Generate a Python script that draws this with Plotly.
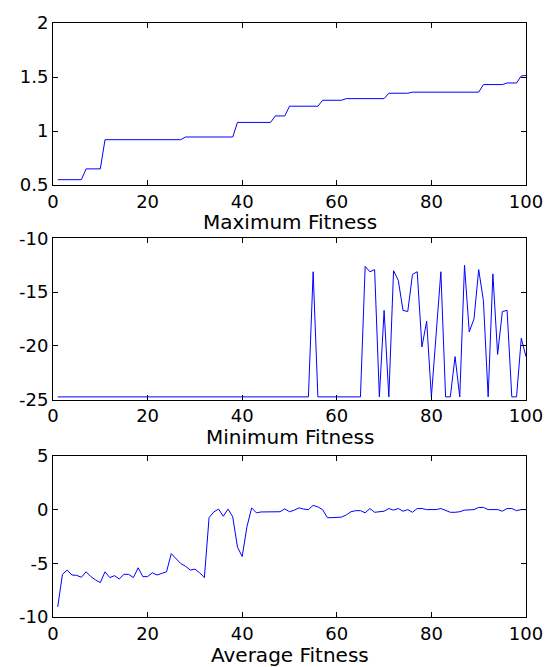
import plotly.graph_objects as go

generations = list(range(1, 101))

max_fitness = [
    0.55, 0.55, 0.55, 0.55, 0.55, 0.55, 0.65, 0.65, 0.65, 0.65,
    0.92, 0.92, 0.92, 0.92, 0.92, 0.92, 0.92, 0.92, 0.92, 0.92,
    0.92, 0.92, 0.92, 0.92, 0.92, 0.92, 0.92, 0.945, 0.945, 0.945,
    0.945, 0.945, 0.945, 0.945, 0.945, 0.945, 0.945, 0.945, 1.08, 1.08,
    1.08, 1.08, 1.08, 1.08, 1.08, 1.08, 1.14, 1.14, 1.14, 1.23,
    1.23, 1.23, 1.23, 1.23, 1.23, 1.23, 1.285, 1.285, 1.285, 1.285,
    1.285, 1.30, 1.30, 1.30, 1.30, 1.30, 1.30, 1.30, 1.30, 1.30,
    1.35, 1.35, 1.35, 1.35, 1.35, 1.36, 1.36, 1.36, 1.36, 1.36,
    1.36, 1.36, 1.36, 1.36, 1.36, 1.36, 1.36, 1.36, 1.36, 1.36,
    1.43, 1.43, 1.43, 1.43, 1.43, 1.445, 1.445, 1.445, 1.51, 1.515,
]

min_fitness = [
    -24.75, -24.75, -24.75, -24.75, -24.75, -24.75, -24.75, -24.75, -24.75, -24.75,
    -24.75, -24.75, -24.75, -24.75, -24.75, -24.75, -24.75, -24.75, -24.75, -24.75,
    -24.75, -24.75, -24.75, -24.75, -24.75, -24.75, -24.75, -24.75, -24.75, -24.75,
    -24.75, -24.75, -24.75, -24.75, -24.75, -24.75, -24.75, -24.75, -24.75, -24.75,
    -24.75, -24.75, -24.75, -24.75, -24.75, -24.75, -24.75, -24.75, -24.75, -24.75,
    -24.75, -24.75, -24.75, -24.75, -13.1, -24.75, -24.75, -24.75, -24.75, -24.75,
    -24.75, -24.75, -24.75, -24.75, -24.75, -12.6, -13.1, -12.9, -24.75, -16.7,
    -24.75, -13.0, -13.9, -16.7, -16.8, -13.35, -13.1, -20.1, -17.7, -24.75,
    -19.0, -13.1, -24.75, -24.75, -21.0, -24.75, -12.5, -18.7, -17.5, -12.9,
    -15.8, -24.75, -13.3, -20.8, -16.8, -16.7, -24.75, -24.75, -19.3, -21.0,
]

avg_fitness = [
    -9.05, -6.03, -5.63, -6.09, -6.12, -6.30, -5.79, -6.24, -6.55, -6.80,
    -5.79, -6.33, -6.15, -6.46, -6.03, -6.03, -6.33, -5.42, -6.24, -6.24,
    -5.88, -6.09, -5.94, -5.79, -4.10, -4.56, -5.02, -5.27, -5.63, -5.54,
    -5.88, -6.33, -0.74, -0.22, 0.05, -0.62, 0.05, -0.68, -3.50, -4.37,
    -1.60, 0.16, -0.30, -0.22, -0.20, -0.20, -0.15, -0.20, 0.07, -0.20,
    -0.05, 0.16, 0.05, 0.00, 0.40, 0.25, 0.00, -0.75, -0.75, -0.75,
    -0.70, -0.50, -0.20, -0.10, -0.10, -0.30, 0.10, -0.25, -0.20, -0.15,
    0.10, -0.05, 0.10, -0.15, 0.00, -0.25, 0.10, 0.10, 0.00, 0.00,
    0.00, 0.10, -0.05, -0.25, -0.25, -0.20, -0.05, 0.00, 0.00, 0.20,
    0.20, 0.00, 0.00, 0.00, -0.15, 0.10, 0.10, -0.10, 0.00, 0.00,
]

x_ticks = [0, 20, 40, 60, 80, 100]
x_tick_labels = ["0", "20", "40", "60", "80", "100"]
y1_ticks = [0.5, 1, 1.5, 2]
y1_tick_labels = ["0.5", "1", "1.5", "2"]
y2_ticks = [-25, -20, -15, -10]
y2_tick_labels = ["-25", "-20", "-15", "-10"]
y3_ticks = [-10, -5, 0, 5]
y3_tick_labels = ["-10", "-5", "0", "5"]
titles = ["Maximum Fitness", "Minimum Fitness", "Average Fitness"]

W, H = 555, 667
ml, mr, mt, mb = 53, 24, 16, 50
ph = H - mt - mb

def dom(top_px, bot_px):
    return [(H - mb - bot_px) / ph, (H - mb - top_px) / ph]

def py(px):
    return (H - mb - px) / ph

BLUE = "#0000FF"
FONT = "DejaVu Sans, Arial, sans-serif"

fig = go.Figure()
series = [max_fitness, min_fitness, avg_fitness]
for i, s in enumerate(series):
    fig.add_trace(go.Scatter(
        x=generations, y=s, mode="lines",
        line=dict(color=BLUE, width=1),
        xaxis="x" if i == 0 else f"x{i+1}",
        yaxis="y" if i == 0 else f"y{i+1}",
        showlegend=False, hoverinfo="skip",
    ))

axis_common = dict(
    showline=True, linecolor="black", linewidth=1, mirror="ticks",
    ticks="inside", ticklen=5, tickwidth=1, tickcolor="black",
    showgrid=False, zeroline=False,
    tickfont=dict(family=FONT, size=18, color="black"),
)

domains = [dom(16, 180), dom(234, 397), dom(454, 617)]
yticks = [(y1_ticks, y1_tick_labels, [0.5, 2]),
          (y2_ticks, y2_tick_labels, [-25, -10]),
          (y3_ticks, y3_tick_labels, [-10, 5])]

layout = dict(
    width=W, height=H,
    margin=dict(l=ml, r=mr, t=mt, b=mb),
    paper_bgcolor="white", plot_bgcolor="white",
    font=dict(family=FONT, color="black"),
)
for i in range(3):
    xs = "xaxis" if i == 0 else f"xaxis{i+1}"
    ys = "yaxis" if i == 0 else f"yaxis{i+1}"
    yname = "y" if i == 0 else f"y{i+1}"
    xname = "x" if i == 0 else f"x{i+1}"
    layout[xs] = dict(axis_common, domain=[0, 1], anchor=yname, range=[0, 100],
                      tickmode="array", tickvals=x_ticks, ticktext=x_tick_labels)
    tv, tt, rg = yticks[i]
    layout[ys] = dict(axis_common, domain=domains[i], anchor=xname, range=rg,
                      tickmode="array", tickvals=tv, ticktext=tt)

fig.update_layout(**layout)

title_px = [217, 435, 655]
for t, p in zip(titles, title_px):
    fig.add_annotation(text=t, xref="paper", yref="paper", x=0.5, y=py(p),
                       xanchor="center", yanchor="middle", showarrow=False,
                       font=dict(family=FONT, size=20, color="black"))

fig.write_html(
    "out.html",
    config={"displayModeBar": False},
    post_script="document.body.style.margin='0';document.documentElement.style.overflow='hidden';document.body.style.overflow='hidden';",
)
